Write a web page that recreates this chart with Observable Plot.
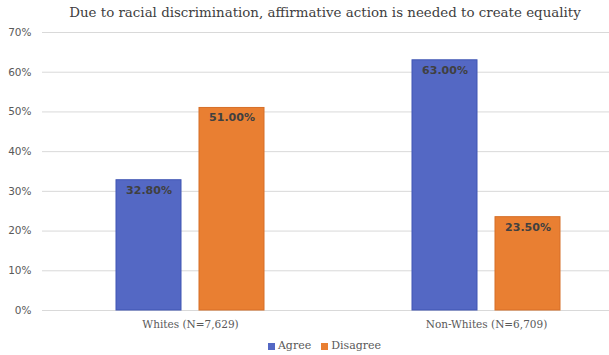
<!DOCTYPE html>
<html>
<head>
<meta charset="utf-8">
<script src="https://cdn.jsdelivr.net/npm/d3@7"></script>
<script src="https://cdn.jsdelivr.net/npm/@observablehq/plot@0.6"></script>
<style>
  body { margin: 0; background: #fff; width: 609px; height: 355px; overflow: hidden; }
  #title { height: 28px; box-sizing: border-box; padding-top: 5px; padding-left: 41px; text-align: center;
    font-family: "DejaVu Serif", serif; font-size: 13.4px; color: #404040; white-space: nowrap; }
  #legend { display: flex; justify-content: center; align-items: center; gap: 10px; height: 19px; padding-left: 40px;
    font-family: "DejaVu Serif", serif; font-size: 11px; color: #595959; }
  #legend span.sw { display: inline-block; width: 7px; height: 7px; margin-right: 3px; vertical-align: middle; }
  svg { overflow: visible; }
</style>
</head>
<body>
<div id="title">Due to racial discrimination, affirmative action is needed to create equality</div>
<div id="chart"></div>
<div id="legend"></div>
<script>
const groups = ["Whites (N=7,629)", "Non-Whites (N=6,709)"];
const series = ["Agree", "Disagree"];
const agreeValues = [0.328, 0.63];
const disagreeValues = [0.51, 0.235];
const yTicks = [0, 0.1, 0.2, 0.3, 0.4, 0.5, 0.6, 0.7];
const fills = ["#5468C4", "#E97F32"];
const strokes = ["#3F55B3", "#D66F27"];

const data = [];
groups.forEach((g, i) => {
  data.push({group: g, series: "Agree", value: agreeValues[i]});
  data.push({group: g, series: "Disagree", value: disagreeValues[i]});
});

const plot = Plot.plot({
  width: 609,
  height: 308,
  marginLeft: 42,
  marginRight: -25,
  marginTop: 4,
  marginBottom: 26,
  style: {fontFamily: "DejaVu Sans, sans-serif", fontSize: "10.5px", color: "#595959", background: "transparent"},
  fx: {domain: groups, padding: 0, label: null, tickSize: 0, tickPadding: 10, axis: "bottom"},
  x: {domain: series, axis: null, paddingInner: 0.214, paddingOuter: 0.869},
  y: {domain: [0, 0.7], ticks: yTicks, tickFormat: d3.format(".0%"), tickSize: 0, tickPadding: 11, label: null},
  color: {domain: series, range: fills},
  marks: [
    Plot.ruleY(yTicks, {stroke: "#d9d9d9", strokeWidth: 1}),
    Plot.barY(data, {fx: "group", x: "series", y: "value", fill: "series",
      stroke: d => strokes[series.indexOf(d.series)], strokeWidth: 1}),
    Plot.text(data, {fx: "group", x: "series", y: "value", text: d => d3.format(".2%")(d.value),
      dy: 10, fill: "#404040", fontWeight: "bold", fontSize: 11, fontFamily: "DejaVu Sans"})
  ]
});
document.getElementById("chart").appendChild(plot);

// style the facet axis labels as serif
plot.querySelectorAll("g[aria-label='fx-axis tick label'] text, g[aria-label='fx-axis'] text").forEach(t => {
  t.setAttribute("font-family", "DejaVu Serif");
});

const legend = document.getElementById("legend");
series.forEach((s, i) => {
  const item = document.createElement("span");
  item.innerHTML = `<span class="sw" style="background:${fills[i]}"></span>${s}`;
  legend.appendChild(item);
});
</script>
</body>
</html>
